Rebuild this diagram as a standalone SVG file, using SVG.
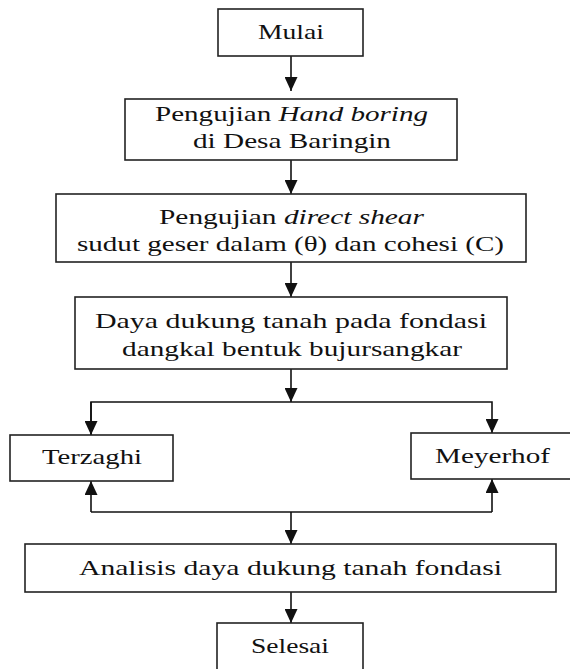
<svg xmlns="http://www.w3.org/2000/svg" width="570" height="669" viewBox="0 0 570 669">
<style>
.box{fill:#fff;stroke:#222;stroke-width:1.6}
.t{font-family:"Liberation Serif","Times New Roman",serif;font-size:22px;fill:#111}
.c{fill:none;stroke:#111;stroke-width:1.6}
</style>
<defs>
<marker id="ah" markerUnits="userSpaceOnUse" markerWidth="16" markerHeight="13" refX="14" refY="6.5" orient="auto">
<path d="M0,0 L14,6.5 L0,13 Z" fill="#111"/>
</marker>
</defs>
<rect width="570" height="669" fill="#fff"/>
<g id="connectors">
<line class="c" x1="291" y1="56" x2="291" y2="91" marker-end="url(#ah)"/>
<line class="c" x1="291" y1="160" x2="291" y2="194" marker-end="url(#ah)"/>
<line class="c" x1="291" y1="262" x2="291" y2="297" marker-end="url(#ah)"/>
<line class="c" x1="291" y1="369" x2="291" y2="402" marker-end="url(#ah)"/>
<polyline class="c" points="91,435 91,402 492,402 492,433" marker-end="url(#ah)"/>
<line class="c" x1="91" y1="402" x2="91" y2="435" marker-end="url(#ah)"/>
<polyline class="c" points="91,512 492,512"/>
<line class="c" x1="91" y1="512" x2="91" y2="481" marker-end="url(#ah)"/>
<line class="c" x1="492" y1="512" x2="492" y2="479" marker-end="url(#ah)"/>
<line class="c" x1="291" y1="512" x2="291" y2="544" marker-end="url(#ah)"/>
<line class="c" x1="291" y1="592" x2="291" y2="623" marker-end="url(#ah)"/>
</g>
<g id="mulai">
<rect class="box" x="218" y="9" width="145" height="47"/>
<text class="t" x="258" y="39" textLength="66" lengthAdjust="spacingAndGlyphs">Mulai</text>
</g>
<g id="hand-boring">
<rect class="box" x="125" y="99" width="332" height="61"/>
<text class="t" x="155" y="121" textLength="273" lengthAdjust="spacingAndGlyphs">Pengujian <tspan font-style="italic">Hand boring</tspan></text>
<text class="t" x="193" y="148" textLength="198" lengthAdjust="spacingAndGlyphs">di Desa Baringin</text>
</g>
<g id="direct-shear">
<rect class="box" x="56" y="194" width="470" height="68"/>
<text class="t" x="159" y="224" textLength="265" lengthAdjust="spacingAndGlyphs">Pengujian <tspan font-style="italic">direct shear</tspan></text>
<text class="t" x="77" y="251" textLength="427" lengthAdjust="spacingAndGlyphs">sudut geser dalam (θ) dan cohesi (C)</text>
</g>
<g id="daya-dukung">
<rect class="box" x="75" y="297" width="432" height="72"/>
<text class="t" x="95" y="328" textLength="392" lengthAdjust="spacingAndGlyphs">Daya dukung tanah pada fondasi</text>
<text class="t" x="122" y="356" textLength="340" lengthAdjust="spacingAndGlyphs">dangkal bentuk bujursangkar</text>
</g>
<g id="terzaghi">
<rect class="box" x="10" y="435" width="163" height="46"/>
<text class="t" x="42" y="464" textLength="100" lengthAdjust="spacingAndGlyphs">Terzaghi</text>
</g>
<g id="meyerhof">
<rect class="box" x="411" y="433" width="170" height="46"/>
<text class="t" x="435" y="463" textLength="115" lengthAdjust="spacingAndGlyphs">Meyerhof</text>
</g>
<g id="analisis">
<rect class="box" x="25" y="544" width="531" height="48"/>
<text class="t" x="79" y="575" textLength="423" lengthAdjust="spacingAndGlyphs">Analisis daya dukung tanah fondasi</text>
</g>
<g id="selesai">
<rect class="box" x="217" y="623" width="146" height="60"/>
<text class="t" x="251" y="653" textLength="78" lengthAdjust="spacingAndGlyphs">Selesai</text>
</g>
</svg>
